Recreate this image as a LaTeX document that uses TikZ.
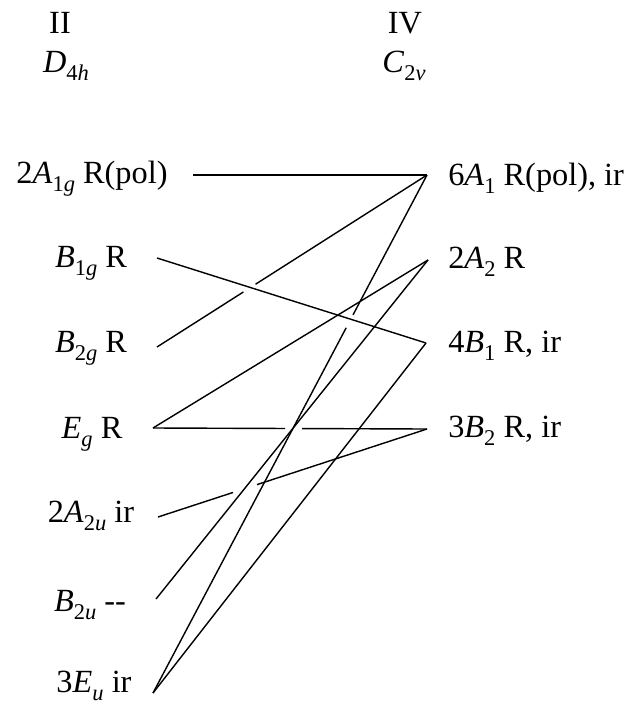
\documentclass[tikz,border=0pt]{standalone}
\usepackage{fontspec}
\setmainfont{Liberation Serif}
\usetikzlibrary{calc}
\newcommand{\lsub}[1]{\raisebox{-0.25em}{\fontsize{16}{18}\selectfont #1}}

\begin{document}
\begin{tikzpicture}[
    x=0.025cm, y=-0.025cm,
    every node/.style={font=\fontsize{23}{27}\selectfont, inner sep=0pt},
    head/.style={anchor=base},
    leftlab/.style={anchor=base},
    rightlab/.style={anchor=base west},
    link/.style={line width=1pt, draw=black}
]
\useasboundingbox (0,0) rectangle (641,704);
% headings
\node[head] (ii) at (60,33) {II};
\node[head] (dfh) at (66,72) {\textit{D\/}\lsub{4\textit{h}}};
\node[head] (iv) at (405,33) {IV};
\node[head] (ctv) at (404,72) {\textit{C\/}\lsub{2\textit{v}}};
% left column
\node[leftlab] (agone) at (92,183) {2\textit{A\/}\lsub{1\textit{g}} R(pol)};
\node[leftlab] (bgone) at (91,267) {\textit{B\/}\lsub{1\textit{g}} R};
\node[leftlab] (bgtwo) at (91,352) {\textit{B\/}\lsub{2\textit{g}} R};
\node[leftlab] (eg) at (92,438) {\textit{E\/}\lsub{\textit{g}} R};
\node[leftlab] (autwo) at (91,522) {2\textit{A\/}\lsub{2\textit{u}} ir};
\node[leftlab] (butwo) at (90,611) {\textit{B\/}\lsub{2\textit{u}} -{}-};
\node[leftlab] (eu) at (94,692) {3\textit{E\/}\lsub{\textit{u}} ir};
% right column
\node[rightlab] (aone) at (448,185) {6\textit{A\/}\lsub{1} R(pol), ir};
\node[rightlab] (atwo) at (448,268) {2\textit{A\/}\lsub{2} R};
\node[rightlab] (bone) at (448,352) {4\textit{B\/}\lsub{1} R, ir};
\node[rightlab] (btwo) at (448,437) {3\textit{B\/}\lsub{2} R, ir};
% line ends
\coordinate (agoneside) at (193,175);
\coordinate (bgoneside) at (157,258);
\coordinate (bgtwoside) at (157,347);
\coordinate (egside) at (153,428);
\coordinate (autwoside) at (158,517);
\coordinate (butwoside) at (156,599);
\coordinate (euside) at (153,693);
\coordinate (aoneside) at (427,175);
\coordinate (atwoside) at (428,260);
\coordinate (boneside) at (426,343);
\coordinate (btwoside) at (427,429);
% correlations
\draw[link] (agoneside) -- (aoneside);
\draw[link] (bgoneside) -- (boneside);
\draw[link] (bgtwoside) -- ($(bgtwoside)!0.32!(aoneside)$);
\draw[link] ($(bgtwoside)!0.365!(aoneside)$) -- (aoneside);
\draw[link] (egside) -- (atwoside);
\draw[link] (egside) -- ($(egside)!0.482!(btwoside)$);
\draw[link] ($(egside)!0.544!(btwoside)$) -- (btwoside);
\draw[link] (autwoside) -- ($(autwoside)!0.279!(btwoside)$);
\draw[link] ($(autwoside)!0.368!(btwoside)$) -- (btwoside);
\draw[link] (butwoside) -- (atwoside);
\draw[link] (euside) -- ($(euside)!0.705!(aoneside)$);
\draw[link] ($(euside)!0.73!(aoneside)$) -- (aoneside);
\draw[link] (euside) -- (boneside);
\end{tikzpicture}
\end{document}
